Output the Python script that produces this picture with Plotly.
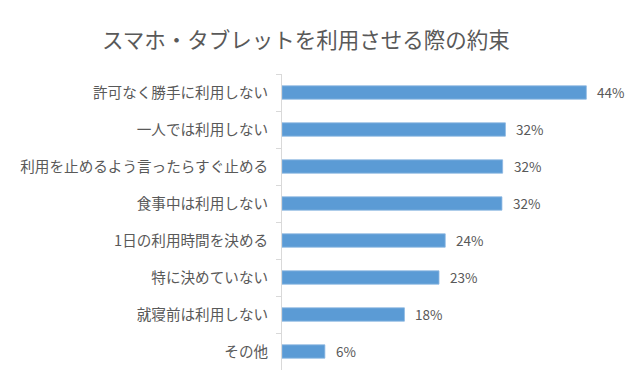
import plotly.graph_objects as go

categories = [
    "許可なく勝手に利用しない",
    "一人では利用しない",
    "利用を止めるよう言ったらすぐ止める",
    "食事中は利用しない",
    "1日の利用時間を決める",
    "特に決めていない",
    "就寝前は利用しない",
    "その他",
]
values = [44.0, 32.3, 31.9, 31.8, 23.6, 22.7, 17.7, 6.2]
value_labels = ["44%", "32%", "32%", "32%", "24%", "23%", "18%", "6%"]

FONT = "Noto Sans CJK JP, Noto Sans, sans-serif"
TEXT = "#595959"

fig = go.Figure(
    go.Bar(
        x=values,
        y=categories,
        orientation="h",
        marker=dict(color="#5B9BD5", line=dict(color="#8DB8E2", width=0.8)),
        width=0.36,
        hoverinfo="skip",
    )
)

for v, c, t in zip(values, categories, value_labels):
    fig.add_annotation(
        x=v, y=c, xref="x", yref="y", text=t, showarrow=False,
        xanchor="left", xshift=9, yshift=1,
        font=dict(family=FONT, size=13.5, color=TEXT),
    )

fig.update_layout(
    width=640, height=384,
    paper_bgcolor="white", plot_bgcolor="white",
    margin=dict(l=282, r=26, t=74, b=14, autoexpand=False),
    showlegend=False,
    title=dict(
        text="スマホ・タブレットを利用させる際の約束",
        x=0.478, xref="container", xanchor="center",
        y=1 - 40 / 384, yref="container", yanchor="middle",
        font=dict(family=FONT, size=21.5, color=TEXT),
    ),
    xaxis=dict(
        range=[0, 48], visible=False, showgrid=False, zeroline=False,
    ),
    yaxis=dict(
        categoryorder="array", categoryarray=categories,
        autorange="reversed",
        showline=True, linecolor="#D9D9D9", linewidth=1,
        ticks="outside", tickson="boundaries", ticklen=5, tickcolor="#D9D9D9",
        ticklabelstandoff=10,
        tickfont=dict(family=FONT, size=14.6, color=TEXT),
        showgrid=False, zeroline=False,
    ),
)

fig.write_html(
    "out.html",
    config={"displayModeBar": False},
    post_script="document.body.style.margin='0';document.body.style.padding='0';",
)
